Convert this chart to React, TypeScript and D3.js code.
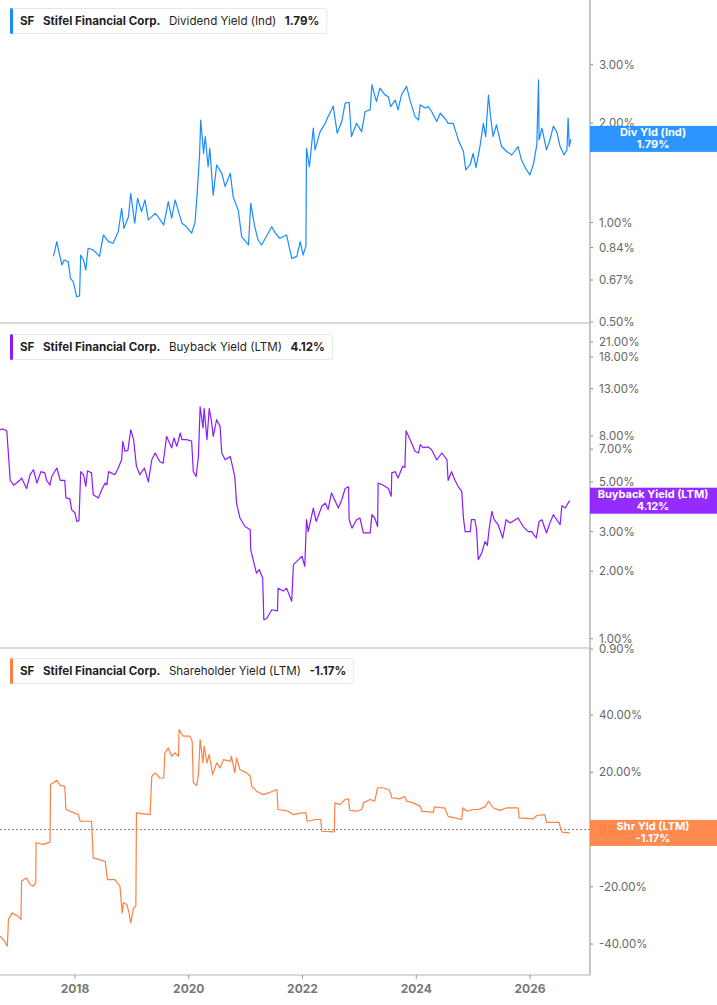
import { useLayoutEffect, useRef, useState } from 'react'
import { line, scaleLinear, scaleLog } from 'd3'

// [decimal year, %]
const divYield: [number, number][] = [
	[2017.62, 0.79], [2017.68, 0.875], [2017.71, 0.826], [2017.77, 0.744], [2017.81, 0.77],
	[2017.88, 0.761], [2017.92, 0.678], [2017.97, 0.662], [2018.03, 0.596], [2018.08, 0.6],
	[2018.1, 0.797], [2018.15, 0.77], [2018.19, 0.718], [2018.23, 0.836], [2018.32, 0.826],
	[2018.43, 0.79], [2018.5, 0.917], [2018.59, 0.875], [2018.67, 0.865], [2018.76, 0.938],
	[2018.82, 1.104], [2018.86, 0.96], [2018.94, 1.041], [2018.98, 1.226], [2019.05, 0.995],
	[2019.1, 1.184], [2019.17, 1.079], [2019.23, 1.17], [2019.29, 1.018], [2019.41, 1.066],
	[2019.46, 1.041], [2019.56, 0.983], [2019.64, 1.156], [2019.7, 1.03], [2019.76, 1.17],
	[2019.88, 0.995], [2019.96, 0.971], [2020.05, 0.928], [2020.11, 1.0], [2020.15, 1.24],
	[2020.19, 1.6], [2020.21, 2.04], [2020.26, 1.619], [2020.29, 1.82], [2020.34, 1.475],
	[2020.37, 1.677], [2020.43, 1.21], [2020.49, 1.493], [2020.58, 1.41], [2020.64, 1.284],
	[2020.73, 1.409], [2020.78, 1.197], [2020.87, 1.09], [2020.93, 0.906], [2021.05, 0.855],
	[2021.09, 1.143], [2021.16, 0.971], [2021.22, 0.885], [2021.28, 0.855], [2021.46, 0.971],
	[2021.52, 0.93], [2021.6, 0.896], [2021.72, 0.917], [2021.81, 0.779], [2021.9, 0.79],
	[2021.96, 0.875], [2022.01, 0.797], [2022.06, 0.85], [2022.07, 1.677], [2022.12, 1.475],
	[2022.19, 1.929], [2022.22, 1.658], [2022.31, 1.883], [2022.4, 1.995], [2022.45, 2.091],
	[2022.51, 2.19], [2022.54, 2.25], [2022.61, 1.862], [2022.69, 2.02], [2022.75, 2.296],
	[2022.82, 2.31], [2022.86, 1.82], [2022.95, 1.995], [2023.04, 1.883], [2023.1, 2.166],
	[2023.19, 2.19], [2023.22, 2.609], [2023.3, 2.321], [2023.36, 2.549], [2023.45, 2.432],
	[2023.51, 2.4], [2023.55, 2.241], [2023.63, 2.345], [2023.68, 2.19], [2023.74, 2.43],
	[2023.83, 2.58], [2023.89, 2.345], [2023.98, 2.09], [2024.04, 2.04], [2024.07, 2.27],
	[2024.15, 2.22], [2024.21, 2.241], [2024.27, 2.166], [2024.36, 2.02], [2024.42, 2.14],
	[2024.51, 2.06], [2024.56, 1.995], [2024.65, 1.995], [2024.74, 1.777], [2024.83, 1.639],
	[2024.87, 1.442], [2024.95, 1.5], [2025.0, 1.619], [2025.05, 1.465], [2025.12, 1.697],
	[2025.18, 1.995], [2025.22, 1.82], [2025.27, 2.43], [2025.3, 2.14], [2025.35, 1.82],
	[2025.41, 1.973], [2025.5, 1.697], [2025.59, 1.64], [2025.68, 1.6], [2025.79, 1.697],
	[2025.85, 1.546], [2025.94, 1.442], [2026.0, 1.393], [2026.06, 1.5], [2026.12, 1.716],
	[2026.15, 2.7], [2026.16, 1.776], [2026.21, 1.929], [2026.29, 1.658], [2026.35, 1.776],
	[2026.41, 1.956], [2026.47, 1.88], [2026.53, 1.697], [2026.6, 1.6], [2026.65, 1.66],
	[2026.67, 2.07], [2026.69, 1.697], [2026.72, 1.79],
]

const buybackYield: [number, number][] = [
	[2016.68, 8.53], [2016.73, 8.6], [2016.8, 8.44], [2016.83, 6.6], [2016.86, 5.08],
	[2016.92, 4.83], [2017.03, 5.08], [2017.06, 5.2], [2017.15, 4.67], [2017.21, 5.38],
	[2017.27, 5.66], [2017.33, 4.94], [2017.4, 5.55], [2017.47, 5.48], [2017.5, 5.08],
	[2017.56, 4.83], [2017.59, 5.28], [2017.68, 5.76], [2017.74, 5.08], [2017.82, 5.08],
	[2017.84, 4.24], [2017.91, 4.2], [2017.94, 3.76], [2018.0, 3.63], [2018.03, 3.33],
	[2018.07, 3.36], [2018.1, 5.55], [2018.15, 5.38], [2018.19, 4.77], [2018.22, 5.6],
	[2018.29, 5.48], [2018.32, 4.38], [2018.41, 4.24], [2018.47, 4.61], [2018.53, 4.94],
	[2018.56, 4.85], [2018.59, 5.55], [2018.7, 5.38], [2018.76, 5.76], [2018.82, 6.27],
	[2018.84, 7.58], [2018.88, 6.84], [2018.93, 6.9], [2018.98, 8.53], [2019.03, 7.71],
	[2019.08, 5.86], [2019.14, 5.38], [2019.22, 5.76], [2019.29, 5.0], [2019.35, 6.27],
	[2019.41, 6.72], [2019.49, 6.16], [2019.55, 6.05], [2019.61, 7.97], [2019.7, 7.08],
	[2019.74, 7.84], [2019.79, 7.19], [2019.85, 8.25], [2019.88, 7.71], [2019.96, 7.71],
	[2020.05, 7.6], [2020.08, 5.55], [2020.13, 5.28], [2020.17, 6.48], [2020.2, 10.8],
	[2020.25, 8.69], [2020.27, 10.6], [2020.32, 7.71], [2020.36, 10.6], [2020.4, 9.29],
	[2020.43, 7.97], [2020.49, 9.46], [2020.55, 8.83], [2020.58, 6.72], [2020.64, 6.27],
	[2020.73, 6.48], [2020.81, 5.28], [2020.84, 4.02], [2020.9, 3.45], [2020.99, 3.16],
	[2021.08, 3.06], [2021.09, 2.49], [2021.19, 1.96], [2021.24, 2.03], [2021.3, 1.86],
	[2021.32, 1.215], [2021.37, 1.23], [2021.46, 1.346], [2021.56, 1.33], [2021.57, 1.68],
	[2021.66, 1.63], [2021.72, 1.68], [2021.81, 1.47], [2021.84, 2.14], [2021.93, 2.25],
	[2021.99, 2.33], [2022.04, 2.1], [2022.07, 3.39], [2022.1, 3.0], [2022.19, 3.82],
	[2022.24, 3.33], [2022.34, 3.89], [2022.4, 4.02], [2022.45, 3.76], [2022.51, 4.46],
	[2022.63, 3.82], [2022.69, 4.16], [2022.75, 4.67], [2022.81, 4.75], [2022.82, 3.39],
	[2022.87, 3.11], [2022.95, 3.39], [2023.01, 3.45], [2023.07, 2.96], [2023.19, 2.96],
	[2023.22, 3.57], [2023.27, 3.45], [2023.32, 3.16], [2023.33, 4.94], [2023.42, 4.83],
	[2023.51, 4.67], [2023.56, 4.31], [2023.57, 5.48], [2023.63, 5.55], [2023.68, 5.2],
	[2023.76, 5.86], [2023.8, 5.8], [2023.82, 8.44], [2023.89, 7.71], [2023.98, 6.84],
	[2024.04, 6.72], [2024.07, 7.32], [2024.12, 7.1], [2024.21, 7.15], [2024.27, 6.95],
	[2024.36, 6.27], [2024.45, 6.72], [2024.54, 6.27], [2024.56, 5.08], [2024.62, 5.55],
	[2024.68, 5.08], [2024.74, 4.75], [2024.8, 4.53], [2024.83, 3.45], [2024.86, 3.0],
	[2024.95, 3.0], [2024.97, 3.39], [2025.03, 3.39], [2025.06, 3.06], [2025.09, 2.25],
	[2025.15, 2.41], [2025.21, 2.71], [2025.25, 2.6], [2025.28, 3.06], [2025.33, 3.69],
	[2025.37, 3.39], [2025.44, 3.22], [2025.52, 2.81], [2025.58, 3.39], [2025.65, 3.28],
	[2025.79, 3.45], [2025.88, 3.16], [2025.97, 3.0], [2026.03, 3.0], [2026.11, 2.81],
	[2026.16, 3.33], [2026.21, 3.39], [2026.29, 2.96], [2026.35, 3.28], [2026.41, 3.57],
	[2026.47, 3.39], [2026.53, 3.22], [2026.56, 3.91], [2026.62, 3.82], [2026.67, 4.02],
	[2026.7, 4.12],
]

const shrYield: [number, number][] = [
	[2016.68, -37.2], [2016.74, -38.4], [2016.81, -40.7], [2016.83, -31.4], [2016.89, -29.1],
	[2017.0, -30.3], [2017.05, -31.4], [2017.06, -18.0], [2017.15, -16.9], [2017.21, -19.2],
	[2017.27, -19.8], [2017.31, -18.5], [2017.315, -4.6], [2017.44, -5.2], [2017.56, -4.4],
	[2017.57, 15.7], [2017.68, 17.2], [2017.74, 15.4], [2017.82, 15.1], [2017.84, 7.0],
	[2018.06, 5.2], [2018.09, 2.9], [2018.29, 2.9], [2018.32, -9.9], [2018.53, -11.1],
	[2018.57, -17.5], [2018.7, -17.5], [2018.79, -19.8], [2018.83, -29.1], [2018.85, -25.6],
	[2018.91, -26.2], [2018.95, -29.1], [2018.98, -32.6], [2019.03, -27.3], [2019.07, -26.8],
	[2019.08, 5.8], [2019.32, 5.2], [2019.35, 18.6], [2019.41, 19.8], [2019.49, 18.0],
	[2019.56, 18.0], [2019.58, 26.8], [2019.64, 28.5], [2019.7, 25.6], [2019.76, 26.8],
	[2019.82, 25.6], [2019.83, 34.9], [2019.9, 32.6], [2020.02, 32.6], [2020.06, 30.8],
	[2020.08, 16.3], [2020.14, 15.4], [2020.17, 19.2], [2020.2, 31.4], [2020.25, 23.3],
	[2020.27, 29.1], [2020.32, 23.3], [2020.36, 26.2], [2020.42, 19.2], [2020.49, 23.3],
	[2020.55, 21.5], [2020.61, 24.4], [2020.73, 23.8], [2020.75, 25.6], [2020.81, 19.8],
	[2020.84, 25.0], [2020.9, 20.9], [2021.02, 19.8], [2021.08, 18.6], [2021.11, 15.1],
	[2021.19, 13.4], [2021.31, 12.2], [2021.43, 13.0], [2021.55, 14.0], [2021.57, 7.0],
	[2021.75, 6.4], [2021.84, 5.2], [2021.99, 5.8], [2022.06, 5.8], [2022.08, 2.9],
	[2022.22, 3.5], [2022.32, 3.5], [2022.34, -0.6], [2022.56, -0.8], [2022.57, 9.3],
	[2022.66, 8.7], [2022.75, 10.5], [2022.81, 10.7], [2022.83, 6.7], [2022.95, 6.4],
	[2023.04, 7.0], [2023.07, 9.3], [2023.19, 10.5], [2023.27, 9.9], [2023.32, 14.6],
	[2023.42, 14.6], [2023.53, 13.7], [2023.57, 11.1], [2023.71, 10.7], [2023.8, 11.6],
	[2023.83, 9.9], [2023.95, 9.3], [2024.07, 8.1], [2024.1, 6.4], [2024.3, 6.0],
	[2024.32, 7.9], [2024.45, 7.6], [2024.5, 7.6], [2024.56, 4.6], [2024.8, 3.5],
	[2024.82, 7.6], [2024.89, 6.4], [2025.0, 7.0], [2025.09, 7.0], [2025.21, 7.9],
	[2025.27, 9.9], [2025.35, 7.6], [2025.47, 6.7], [2025.59, 7.6], [2025.79, 7.6],
	[2025.81, 4.1], [2026.06, 3.7], [2026.12, 4.9], [2026.26, 5.2], [2026.29, 2.5],
	[2026.51, 2.5], [2026.56, -0.9], [2026.7, -1.17],
]

const divTicks = [3, 2, 1, 0.84, 0.67, 0.5]
const buybackTicks = [21, 18, 13, 8, 7, 5, 3, 2, 1, 0.9]
const shrTicks = [40, 20, 0, -20, -40]
const yearTicks = [2018, 2020, 2022, 2024, 2026]

const W = 717
const H = 1005
const plotRight = 590
const fontFamily = "Inter, 'Noto Sans', sans-serif"

const x = scaleLinear().domain([2016.681, 2027.055]).range([0, plotRight])

const panels = [
	{
		key: 'div',
		bottom: 323,
		data: divYield,
		y: scaleLog().domain([0.5, 4.71]).range([322, 0]),
		ticks: divTicks,
		color: '#1a8cff',
		metric: 'Dividend Yield (Ind)',
		short: 'Div Yld (Ind)',
		legendY: 8,
	},
	{
		key: 'buyback',
		bottom: 648,
		data: buybackYield,
		y: scaleLog().domain([0.9, 25.5]).range([649, 323]),
		ticks: buybackTicks,
		color: '#8c1aff',
		metric: 'Buyback Yield (LTM)',
		short: 'Buyback Yield (LTM)',
		legendY: 334,
	},
	{
		key: 'shr',
		bottom: 975,
		data: shrYield,
		y: scaleLinear().domain([-50.8, 63.4]).range([975, 648]),
		ticks: shrTicks,
		color: '#ff8040',
		metric: 'Shareholder Yield (LTM)',
		short: 'Shr Yld (LTM)',
		legendY: 658,
	},
]

function Legend({ y, color, metric, value }: { y: number; color: string; metric: string; value: string }) {
	const ref = useRef<SVGTextElement>(null)
	const [w, setW] = useState(300)
	useLayoutEffect(() => {
		if (ref.current) setW(ref.current.getBBox().width)
	}, [metric, value])
	return (
		<g transform={`translate(10,${y})`}>
			<rect x={0.5} y={0.5} width={w + 17} height={25} rx={3} fill='#fff' stroke='#e6e6e6' />
			<rect x={0} y={0} width={3} height={26} rx={1.5} fill={color} />
			<text ref={ref} x={10} y={17} fontSize={11.6} fill='#1f1f1f' fontFamily={fontFamily}>
				<tspan fontWeight={700}>SF</tspan>
				<tspan dx={8.5} fontWeight={700}>Stifel Financial Corp.</tspan>
				<tspan dx={8.5} fontWeight={400}>{metric}</tspan>
				<tspan dx={8.5} fontWeight={700}>{value}</tspan>
			</text>
		</g>
	)
}

export default function App() {
	const fmt = (v: number) => `${v.toFixed(2)}%`
	return (
		<div style={{ width: W, height: H }}>
			<style>{'body{margin:0}'}</style>
			<svg width={W} height={H} style={{ display: 'block' }} fontFamily={fontFamily}>
				<rect width={W} height={H} fill='#fff' />
				{panels.map((p) => {
					const path = line<[number, number]>()
						.x((d) => x(d[0]))
						.y((d) => p.y(d[1]))(p.data)
					return (
						<g key={p.key}>
							{p.key === 'shr' && (
								<line x1={0} x2={plotRight} y1={p.y(0)} y2={p.y(0)} stroke='#888' strokeDasharray='2,2' />
							)}
							<path d={path ?? ''} fill='none' stroke={p.color} strokeWidth={1.2} strokeLinejoin='round' />
							{p.ticks.map((t) => (
								<g key={t} transform={`translate(${plotRight},${p.y(t)})`}>
									<line x1={0} x2={3} stroke='#888' />
									<text x={9} dy='0.35em' fontSize={11.5} fill='#666'>
										{fmt(t)}
									</text>
								</g>
							))}
							<line x1={0} x2={plotRight} y1={p.bottom} y2={p.bottom} stroke='#b3b3b3' strokeWidth={1.2} />
						</g>
					)
				})}
				<line x1={plotRight} x2={plotRight} y1={0} y2={975} stroke='#b3b3b3' strokeWidth={1.5} />
				{yearTicks.map((t) => (
					<g key={t} transform={`translate(${x(t)},975)`}>
						<line y1={0} y2={4} stroke='#999' />
						<text y={18} textAnchor='middle' fontSize={12} fontWeight={700} fill='#777'>
							{t}
						</text>
					</g>
				))}
				{panels.map((p) => {
					const last = p.data[p.data.length - 1][1]
					const cy = p.y(last)
					return (
						<g key={`lbl-${p.key}`}>
							<rect x={plotRight} y={cy - 13} width={W - plotRight} height={26} fill={p.color} fillOpacity={0.92} />
							<text x={653} y={cy - 2.5} textAnchor='middle' fontSize={11} fontWeight={700} fill='#fff'>
								{p.short}
							</text>
							<text x={653} y={cy + 9} textAnchor='middle' fontSize={11} fontWeight={700} fill='#fff'>
								{fmt(last)}
							</text>
						</g>
					)
				})}
				{panels.map((p) => (
					<Legend
						key={`lg-${p.key}`}
						y={p.legendY}
						color={p.color}
						metric={p.metric}
						value={fmt(p.data[p.data.length - 1][1])}
					/>
				))}
			</svg>
		</div>
	)
}
